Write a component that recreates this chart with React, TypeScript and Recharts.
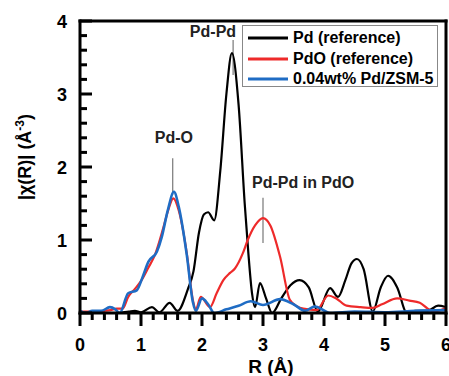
import React from 'react';
import { LineChart, Line, XAxis, YAxis, ReferenceLine, ReferenceDot } from 'recharts';

// R positions (Å) and |chi(R)| values, one pair of arrays per curve
const pdR = [0, 0.6, 0.8, 0.9, 1.0, 1.18, 1.3, 1.47, 1.6, 1.77, 1.86, 1.95, 2.03, 2.1, 2.2, 2.3, 2.4, 2.49, 2.6, 2.7, 2.76, 2.82, 2.87, 2.95, 3.05, 3.15, 3.3, 3.45, 3.6, 3.75, 3.9, 4.1, 4.23, 4.35, 4.45, 4.54, 4.65, 4.8, 4.93, 5.05, 5.2, 5.36, 5.5, 5.7, 5.87, 6.0];
const pdVal = [0, 0, 0.02, 0.03, 0.01, 0.08, 0.01, 0.14, 0.03, 0.33, 0.57, 1.1, 1.35, 1.38, 1.27, 1.95, 3.0, 3.56, 2.85, 1.5, 0.82, 0.27, 0.08, 0.41, 0.2, 0.0, 0.2, 0.38, 0.45, 0.35, 0.02, 0.34, 0.22, 0.45, 0.68, 0.74, 0.6, 0.02, 0.35, 0.51, 0.35, 0.0, 0.03, 0.03, 0.1, 0.08];

const pdoR = [0, 0.2, 0.4, 0.5, 0.6, 0.7, 0.79, 0.9, 1.01, 1.12, 1.23, 1.37, 1.45, 1.53, 1.62, 1.75, 1.85, 1.9, 1.98, 2.13, 2.24, 2.35, 2.46, 2.54, 2.67, 2.75, 2.87, 3.0, 3.12, 3.28, 3.44, 3.56, 3.66, 3.88, 4.07, 4.2, 4.37, 4.6, 4.8, 4.95, 5.2, 5.4, 5.57, 5.7, 5.8, 6.0];
const pdoVal = [0.02, 0.02, 0.03, 0.04, 0.06, 0.06, 0.22, 0.33, 0.45, 0.62, 0.8, 1.18, 1.42, 1.57, 1.4, 0.82, 0.18, 0.05, 0.22, 0.08, 0.27, 0.45, 0.55, 0.61, 0.82, 1.0, 1.2, 1.3, 1.2, 0.77, 0.18, 0.09, 0.06, 0.04, 0.24, 0.2, 0.1, 0.08, 0.07, 0.12, 0.2, 0.17, 0.14, 0.06, 0.02, 0.07];

const zsmR = [0, 0.1, 0.2, 0.35, 0.49, 0.58, 0.65, 0.79, 0.93, 1.03, 1.12, 1.26, 1.34, 1.44, 1.54, 1.62, 1.75, 1.85, 1.9, 2.0, 2.1, 2.2, 2.4, 2.6, 2.8, 3.0, 3.28, 3.5, 3.69, 3.85, 4.1, 4.5, 5.0, 5.5, 6.0];
const zsmVal = [0.03, 0.0, 0.03, 0.03, 0.08, 0.05, 0.0, 0.27, 0.31, 0.5, 0.7, 0.84, 1.04, 1.41, 1.66, 1.45, 0.8, 0.15, 0.03, 0.2, 0.12, 0.0, 0.05, 0.1, 0.16, 0.11, 0.19, 0.12, 0.03, 0.09, 0.0, 0.02, 0.01, 0.03, 0.04];

const seriesNames = ['Pd (reference)', 'PdO (reference)', '0.04wt% Pd/ZSM-5'];
const seriesColors = ['#000000', '#ee2a2a', '#1f6cc4'];

const xMajor = [0, 1, 2, 3, 4, 5, 6];
const yMajor = [0, 1, 2, 3, 4];
const minorStep = 0.2;

const toPoints = (rs: number[], vs: number[]) => rs.map((r, i) => ({ r, v: vs[i] }));
const pdData = toPoints(pdR, pdVal);
const pdoData = toPoints(pdoR, pdoVal);
const zsmData = toPoints(zsmR, zsmVal);

const withMinor = (majors: number[]) => {
  const out: number[] = [];
  for (let i = 0; i < majors.length - 1; i++) {
    for (let k = 1; k < 5; k++) out.push(+(majors[i] + k * minorStep).toFixed(1));
  }
  return out;
};
const xMinor = withMinor(xMajor);
const yMinor = withMinor(yMajor);

const FONT = '"Liberation Sans", Arial, sans-serif';
const INK = '#000000';

// chart box; the plot area is what is left inside the margins and axis sizes
const W = 449;
const H = 376;
const M = { top: 21, right: 3, left: 0, bottom: 0 };
const Y_AXIS_W = 80;
const X_AXIS_H = 63;
const plot = {
  left: M.left + Y_AXIS_W,
  right: W - M.right,
  top: M.top,
  bottom: H - M.bottom - X_AXIS_H,
};
const X_DOMAIN = [0, 6];
const Y_DOMAIN = [0, 4];
const sx = (v: number) => plot.left + ((v - X_DOMAIN[0]) / (X_DOMAIN[1] - X_DOMAIN[0])) * (plot.right - plot.left);
const sy = (v: number) => plot.bottom - ((v - Y_DOMAIN[0]) / (Y_DOMAIN[1] - Y_DOMAIN[0])) * (plot.bottom - plot.top);

const annText = (text: string, anchor: string) => (props: any) => {
  const { viewBox } = props;
  return (
    <text x={viewBox.x + viewBox.width / 2} y={viewBox.y + viewBox.height / 2} textAnchor={anchor}
      fontFamily={FONT} fontWeight="bold" fontSize={16} fill="#222">
      {text}
    </text>
  );
};

const annotations = [
  { text: 'Pd-Pd', tx: 2.18, ty: 3.78, anchor: 'middle', lx: 2.51, y1: 3.74, y2: 3.26 },
  { text: 'Pd-O', tx: 1.54, ty: 2.33, anchor: 'middle', lx: 1.52, y1: 2.12, y2: 1.62 },
  { text: 'Pd-Pd in PdO', tx: 2.82, ty: 1.71, anchor: 'start', lx: 3.0, y1: 1.58, y2: 0.96 },
];

// frame and ticks as filled rectangles (no strokes)
const bar = (x: number, y: number, w: number, h: number, key: string) => (
  <rect key={key} x={x} y={y} width={w} height={h} fill={INK} />
);

const AxesOverlay = () => {
  const t = 3;
  const yTitleX = 24;
  const yTitleY = (plot.top + plot.bottom) / 2 - 10;
  const pw = plot.right - plot.left;
  const ph = plot.bottom - plot.top;
  return (
    <svg width={W} height={H} style={{ position: 'absolute', left: 0, top: 0 }}>
      {bar(plot.left - t / 2, plot.top - t / 2, pw + t, t, 'ft')}
      {bar(plot.left - t / 2, plot.bottom - t / 2, pw + t, t, 'fb')}
      {bar(plot.left - t / 2, plot.top - t / 2, t, ph + t, 'fl')}
      {bar(plot.right - t / 2, plot.top - t / 2, t, ph + t, 'fr')}
      {yMajor.map((v) => bar(plot.left, sy(v) - t / 2, 12, t, 'ym' + v))}
      {yMinor.map((v) => bar(plot.left, sy(v) - t / 2, 7, t, 'yn' + v))}
      {xMajor.map((v) => bar(sx(v) - t / 2, plot.bottom, t, 13, 'xm' + v))}
      {xMinor.map((v) => bar(sx(v) - t / 2, plot.bottom, t, 7, 'xn' + v))}
      {yMajor.map((v) => (
        <text key={'yl' + v} x={plot.left - 13} y={sy(v) + 6.5} textAnchor="end" fontFamily={FONT} fontWeight="bold" fontSize={18} fill={INK}>{v}</text>
      ))}
      {xMajor.map((v) => (
        <text key={'xl' + v} x={sx(v)} y={plot.bottom + 38} textAnchor="middle" fontFamily={FONT} fontWeight="bold" fontSize={18} fill={INK}>{v}</text>
      ))}
      <text x={(plot.left + plot.right) / 2 + 8} y={plot.bottom + 60} textAnchor="middle"
        fontFamily={FONT} fontWeight="bold" fontSize={19} fill={INK}>R (Å)</text>
      <text x={yTitleX} y={yTitleY} dy={7} transform={`rotate(-90 ${yTitleX} ${yTitleY})`} textAnchor="middle"
        fontFamily={FONT} fontWeight="bold" fontSize={18} fill={INK}>
        |χ(R)| (Å<tspan dy={-7} fontSize={12}>-3</tspan><tspan dy={7}>)</tspan>
      </text>
    </svg>
  );
};

const Legend = () => (
  <div style={{
    position: 'absolute', left: 242, top: 25, width: 196, height: 62, border: '1px solid #888',
    background: '#fff', boxSizing: 'border-box', fontFamily: FONT, fontWeight: 'bold', fontSize: 16,
    padding: '2px 0 0 5px',
  }}>
    {seriesNames.map((name, i) => (
      <div key={name} style={{ display: 'flex', alignItems: 'center', height: 20.5 }}>
        <svg width={40} height={4} style={{ marginRight: 5 }}>
          <line x1={0} x2={40} y1={2} y2={2} stroke={seriesColors[i]} strokeWidth={3} />
        </svg>
        <span style={{ lineHeight: '18px' }}>{name}</span>
      </div>
    ))}
  </div>
);

export default function App() {
  return (
    <div style={{ position: 'absolute', left: 0, top: 0, width: W, height: H, background: '#fff' }}>
      <LineChart width={W} height={H} margin={M}>
        <XAxis dataKey="r" type="number" domain={X_DOMAIN} allowDataOverflow height={X_AXIS_H}
          tick={false} tickLine={false} axisLine={false} />
        <YAxis type="number" domain={Y_DOMAIN} allowDataOverflow width={Y_AXIS_W}
          tick={false} tickLine={false} axisLine={false} />
        {annotations.map((a) => (
          <ReferenceLine key={a.text + 'l'} segment={[{ x: a.lx, y: a.y1 }, { x: a.lx, y: a.y2 }]}
            stroke="#777" strokeWidth={1.2} />
        ))}
        <Line data={pdData} dataKey="v" type="monotone" stroke={seriesColors[0]} strokeWidth={2.2} dot={false} isAnimationActive={false} />
        <Line data={pdoData} dataKey="v" type="monotone" stroke={seriesColors[1]} strokeWidth={2.2} dot={false} isAnimationActive={false} />
        <Line data={zsmData} dataKey="v" type="monotone" stroke={seriesColors[2]} strokeWidth={2.6} dot={false} isAnimationActive={false} />
        {annotations.map((a) => (
          <ReferenceDot key={a.text} x={a.tx} y={a.ty} r={0} fill="none" stroke="none"
            label={annText(a.text, a.anchor)} />
        ))}
      </LineChart>
      <AxesOverlay />
      <Legend />
    </div>
  );
}
